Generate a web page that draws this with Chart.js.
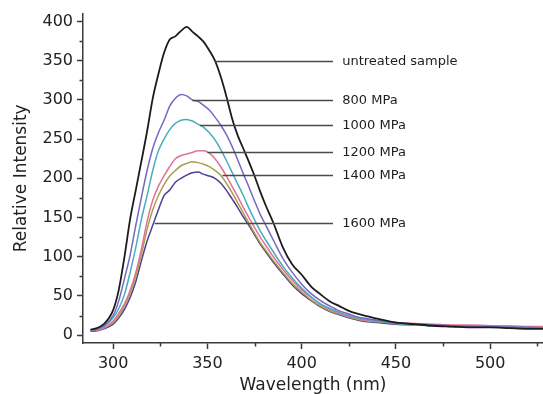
<!DOCTYPE html>
<html>
<head>
<meta charset="utf-8">
<script src="https://cdn.jsdelivr.net/npm/chart.js@4.4.1/dist/chart.umd.min.js"></script>
<style>
  html, body { margin: 0; padding: 0; background: #fff; }
  #wrap { width: 543px; height: 394px; }
</style>
</head>
<body>
<div id="wrap"><canvas id="spectra" width="543" height="394"></canvas></div>
<script>
// wavelength grid (nm)
const wavelengths = [288, 290, 295, 300, 303, 306, 309, 312, 315, 318, 321, 324, 327, 330, 333, 336, 339, 342, 345, 348,
  351, 354, 357, 360, 363, 366, 369, 372, 375, 378, 381, 385, 390, 395, 400, 405, 410, 415, 420, 425,
  430, 435, 440, 450, 460, 470, 480, 490, 500, 510, 520, 528];

const untreated = [7, 8, 14, 32, 58, 100, 148, 185, 222, 260, 302, 333, 360, 377, 381, 388, 393, 387, 381, 374,
  363, 350, 330, 305, 277, 255, 238, 221, 203, 183, 165, 143, 112, 90, 77, 62, 52, 43, 37, 31,
  27, 24, 21, 16, 14, 12, 11, 10, 10, 9, 8, 8];
const mpa800 = [7, 7, 12, 25, 44, 72, 102, 140, 176, 210, 238, 258, 274, 292, 302, 307, 305, 300, 298, 293,
  287, 278, 268, 256, 241, 224, 206, 189, 171, 154, 140, 121, 98, 80, 65, 53, 44, 37, 31, 27,
  23, 21, 19, 16, 14, 13, 12, 11, 11, 10, 10, 9];
const mpa1000 = [6, 7, 11, 22, 34, 52, 80, 112, 148, 178, 210, 235, 250, 262, 270, 274, 275, 273, 269, 265,
  258, 249, 237, 223, 208, 193, 178, 162, 147, 133, 121, 106, 88, 73, 60, 49, 40, 34, 29, 25,
  22, 20, 18, 15, 13, 12, 12, 11, 11, 10, 10, 9];
const mpa1200 = [6, 6, 9, 18, 28, 40, 57, 80, 110, 145, 172, 190, 203, 215, 225, 229, 231, 233, 235, 235,
  232, 225, 215, 203, 190, 177, 163, 150, 137, 125, 114, 100, 84, 70, 58, 48, 39, 33, 28, 24,
  21, 19, 18, 16, 15, 14, 13, 13, 12, 12, 11, 11];
const mpa1400 = [6, 6, 9, 16, 25, 37, 53, 75, 103, 135, 160, 178, 192, 203, 210, 216, 219, 221, 220, 218,
  215, 210, 204, 194, 182, 169, 156, 143, 130, 118, 108, 95, 80, 66, 55, 45, 37, 31, 27, 23,
  20, 18, 17, 15, 14, 13, 12, 12, 11, 11, 10, 10];
const mpa1600 = [5, 5, 8, 14, 22, 33, 48, 68, 95, 120, 140, 160, 178, 185, 195, 200, 204, 207, 208, 205,
  203, 200, 194, 185, 174, 163, 151, 140, 128, 116, 106, 93, 78, 64, 53, 44, 36, 30, 26, 22,
  19, 17, 16, 14, 13, 12, 11, 11, 10, 10, 9, 9];

const seriesNames = ["untreated sample", "800 MPa", "1000 MPa", "1200 MPa", "1400 MPa", "1600 MPa"];
const seriesColors = ["#1c1c1c", "#7767c4", "#46aebd", "#e0729a", "#a9a14a", "#4f3f8e"];

// leader lines: where each one touches its curve (nm, intensity)
const leaderX = [354, 342, 346, 350, 358, 322];
const leaderY = [350, 300, 268, 234, 204, 143];
const leaderEndX = 416.6;
const labelStartX = 421.5;

const allSeries = [untreated, mpa800, mpa1000, mpa1200, mpa1400, mpa1600];

const datasets = allSeries.map((vals, i) => ({
  label: seriesNames[i],
  data: wavelengths.map((w, j) => ({ x: w, y: vals[j] })),
  borderColor: seriesColors[i],
  borderWidth: i === 0 ? 1.8 : 1.5,
  pointRadius: 0,
  fill: false,
  cubicInterpolationMode: 'monotone'
}));

const axisColor = "#3a3a3a";
const isMajor = v => Math.abs(v % 50) < 0.001;

// shorter ticks for the in-between values
const minorTicks = {
  id: 'minorTicks',
  afterDraw(chart) {
    const ctx = chart.ctx;
    const xs = chart.scales.x, ys = chart.scales.y;
    ctx.save();
    ctx.strokeStyle = axisColor;
    ctx.lineWidth = 1.5;
    ctx.beginPath();
    xs.ticks.forEach(t => {
      if (isMajor(t.value)) return;
      const px = Math.round(xs.getPixelForValue(t.value)) + 0.5;
      ctx.moveTo(px, xs.top);
      ctx.lineTo(px, xs.top + 3.5);
    });
    ys.ticks.forEach(t => {
      if (isMajor(t.value)) return;
      const py = Math.round(ys.getPixelForValue(t.value)) + 0.5;
      ctx.moveTo(ys.right, py);
      ctx.lineTo(ys.right - 3.5, py);
    });
    ctx.stroke();
    ctx.restore();
  }
};

const leaders = {
  id: 'leaders',
  afterDatasetsDraw(chart) {
    const ctx = chart.ctx;
    const xs = chart.scales.x, ys = chart.scales.y;
    ctx.save();
    ctx.strokeStyle = "#4a4a4a";
    ctx.lineWidth = 1.5;
    ctx.fillStyle = "#1e1e1e";
    ctx.font = "13px 'DejaVu Sans'";
    ctx.textBaseline = "middle";
    seriesNames.forEach((name, i) => {
      const y = Math.round(ys.getPixelForValue(leaderY[i])) + 0.5;
      ctx.beginPath();
      ctx.moveTo(xs.getPixelForValue(leaderX[i]), y);
      ctx.lineTo(xs.getPixelForValue(leaderEndX), y);
      ctx.stroke();
      ctx.fillText(name, xs.getPixelForValue(labelStartX), y);
    });
    ctx.restore();
  }
};

new Chart(document.getElementById("spectra"), {
  type: "line",
  data: { datasets },
  plugins: [minorTicks, leaders],
  options: {
    responsive: false,
    animation: false,
    devicePixelRatio: 1,
    layout: { padding: { top: 13, right: 0, bottom: 0, left: 0 } },
    plugins: { legend: { display: false }, tooltip: { enabled: false } },
    scales: {
      x: {
        type: "linear",
        min: 284,
        max: 528,
        afterFit: s => { s.height = 51; },
        border: { display: true, color: axisColor, width: 1.5 },
        grid: {
          drawOnChartArea: false,
          tickLength: 6,
          tickWidth: 1.5,
          tickColor: c => (c.tick && isMajor(c.tick.value)) ? axisColor : "rgba(0,0,0,0)"
        },
        ticks: {
          stepSize: 25,
          includeBounds: false,
          autoSkip: false,
          maxRotation: 0,
          padding: 5,
          color: "#222",
          font: { family: "'DejaVu Sans'", size: 16 },
          callback: v => isMajor(v) ? String(v) : ""
        },
        title: {
          display: true,
          text: "Wavelength (nm)",
          color: "#222",
          font: { family: "'DejaVu Sans'", size: 17, lineHeight: 1 },
          padding: { top: -1.5, bottom: 0 }
        }
      },
      y: {
        type: "linear",
        min: -10,
        max: 410,
        afterFit: s => { s.width = 83; },
        border: { display: true, color: axisColor, width: 1.5 },
        grid: {
          drawOnChartArea: false,
          tickLength: 6,
          tickWidth: 1.5,
          tickColor: c => (c.tick && isMajor(c.tick.value)) ? axisColor : "rgba(0,0,0,0)"
        },
        ticks: {
          stepSize: 25,
          includeBounds: false,
          autoSkip: false,
          padding: 4,
          color: "#222",
          font: { family: "'DejaVu Sans'", size: 16 },
          callback: v => isMajor(v) ? String(v) : ""
        },
        title: {
          display: true,
          text: "Relative Intensity",
          color: "#222",
          font: { family: "'DejaVu Sans'", size: 17, lineHeight: 1 },
          padding: { top: 13.5, bottom: 0 }
        }
      }
    }
  }
});
</script>
</body>
</html>
